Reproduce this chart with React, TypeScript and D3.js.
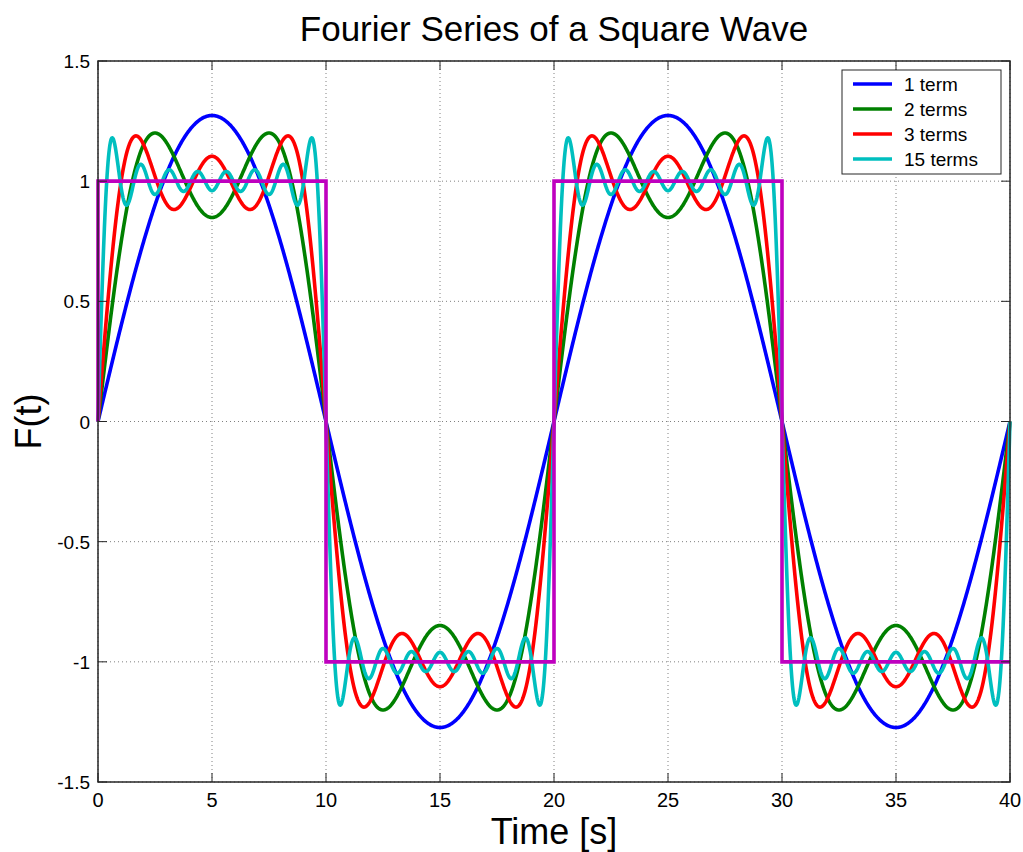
import React from "react";
import * as d3 from "d3";

// ---- Data ----
const seriesLabels = ["1 term", "2 terms", "3 terms", "15 terms"];
// highest odd harmonic in each partial sum (ripple count / overshoot)
const maxHarmonic = [1, 3, 5, 15];
const seriesColors = ["#0000ff", "#008000", "#ff0000", "#00bfbf"];
// square wave: half period of 10 s, amplitude 1
const halfPeriod = 10;
const amplitude = 1;
const squareT = [0, 0, 10, 10, 20, 20, 30, 30, 40];
const squareV = [0, 1, 1, -1, -1, 1, 1, -1, -1];
const squareColor = "#bf00bf";
const xTicks = [0, 5, 10, 15, 20, 25, 30, 35, 40];
const yTicks = [-1.5, -1, -0.5, 0, 0.5, 1, 1.5];
const xDomain = [0, 40];
const yDomain = [-1.5, 1.5];
const sampleStep = 0.02;

const W = 1023;
const H = 852;
const M = { left: 98, right: 1010, top: 61, bottom: 782 };

function partialSum(t: number, maxH: number): number {
  let s = 0;
  for (let h = 1; h <= maxH; h += 2) {
    s += Math.sin((h * Math.PI * t) / halfPeriod) / h;
  }
  return ((4 * amplitude) / Math.PI) * s;
}

export default function App() {
  const x = d3.scaleLinear().domain(xDomain).range([M.left, M.right]);
  const y = d3.scaleLinear().domain(yDomain).range([M.bottom, M.top]);
  const times = d3.range(xDomain[0], xDomain[1] + sampleStep / 2, sampleStep);
  const line = d3
    .line<[number, number]>()
    .x((d) => x(d[0]))
    .y((d) => y(d[1]));

  const series = maxHarmonic.map((n) =>
    times.map((t) => [t, partialSum(t, n)] as [number, number])
  );
  const square = squareT.map((t, i) => [t, squareV[i]] as [number, number]);

  const font = "'Liberation Sans', Arial, Helvetica, sans-serif";
  const axisColor = "#262626";
  const tickLen = 9;

  return (
    <svg
      width={W}
      height={H}
      style={{ position: "absolute", left: 0, top: 0, background: "#fff" }}
      fontFamily={font}
    >
      <rect x={0} y={0} width={W} height={H} fill="#fff" />
      {/* grid */}
      {xTicks.map((t) => (
        <line
          key={"gx" + t}
          x1={x(t)}
          x2={x(t)}
          y1={M.top}
          y2={M.bottom}
          stroke="#808080"
          strokeWidth={1}
          strokeDasharray="1,3"
        />
      ))}
      {yTicks.map((t) => (
        <line
          key={"gy" + t}
          x1={M.left}
          x2={M.right}
          y1={y(t)}
          y2={y(t)}
          stroke="#808080"
          strokeWidth={1}
          strokeDasharray="1,3"
        />
      ))}
      {/* curves */}
      {series.map((s, i) => (
        <path
          key={"s" + i}
          d={line(s) || ""}
          fill="none"
          stroke={seriesColors[i]}
          strokeWidth={3.6}
          strokeLinejoin="round"
        />
      ))}
      <path
        d={line(square) || ""}
        fill="none"
        stroke={squareColor}
        strokeWidth={3.6}
        strokeLinejoin="miter"
      />
      {/* axes box */}
      <rect
        x={M.left}
        y={M.top}
        width={M.right - M.left}
        height={M.bottom - M.top}
        fill="none"
        stroke={axisColor}
        strokeWidth={1.5}
      />
      {xTicks.map((t) => (
        <g key={"tx" + t}>
          <line x1={x(t)} x2={x(t)} y1={M.bottom} y2={M.bottom - tickLen} stroke={axisColor} />
          <line x1={x(t)} x2={x(t)} y1={M.top} y2={M.top + tickLen} stroke={axisColor} />
          <text
            x={x(t)}
            y={M.bottom + 25}
            textAnchor="middle"
            fontSize={20}
            fill="#000"
          >
            {t}
          </text>
        </g>
      ))}
      {yTicks.map((t) => (
        <g key={"ty" + t}>
          <line x1={M.left} x2={M.left + tickLen} y1={y(t)} y2={y(t)} stroke={axisColor} />
          <line x1={M.right} x2={M.right - tickLen} y1={y(t)} y2={y(t)} stroke={axisColor} />
          <text
            x={M.left - 8}
            y={y(t) + 7}
            textAnchor="end"
            fontSize={19}
            fill="#000"
          >
            {t}
          </text>
        </g>
      ))}
      {/* title and labels */}
      <text x={(M.left + M.right) / 2} y={41} textAnchor="middle" fontSize={35} fill="#000">
        Fourier Series of a Square Wave
      </text>
      <text
        x={(M.left + M.right) / 2}
        y={844}
        textAnchor="middle"
        fontSize={36}
        fill="#000"
      >
        Time [s]
      </text>
      <text
        transform={`translate(41, ${(M.top + M.bottom) / 2}) rotate(-90)`}
        textAnchor="middle"
        fontSize={36}
        fill="#000"
      >
        F(t)
      </text>
      {/* legend */}
      <rect x={842} y={70} width={159} height={104} fill="#fff" stroke={axisColor} strokeWidth={1} />
      {seriesLabels.map((lab, i) => {
        const ly = 84 + i * 25;
        return (
          <g key={"lg" + i}>
            <line x1={853} x2={892} y1={ly} y2={ly} stroke={seriesColors[i]} strokeWidth={3.6} />
            <text x={904} y={ly + 7} fontSize={19} fill="#000">
              {lab}
            </text>
          </g>
        );
      })}
    </svg>
  );
}
